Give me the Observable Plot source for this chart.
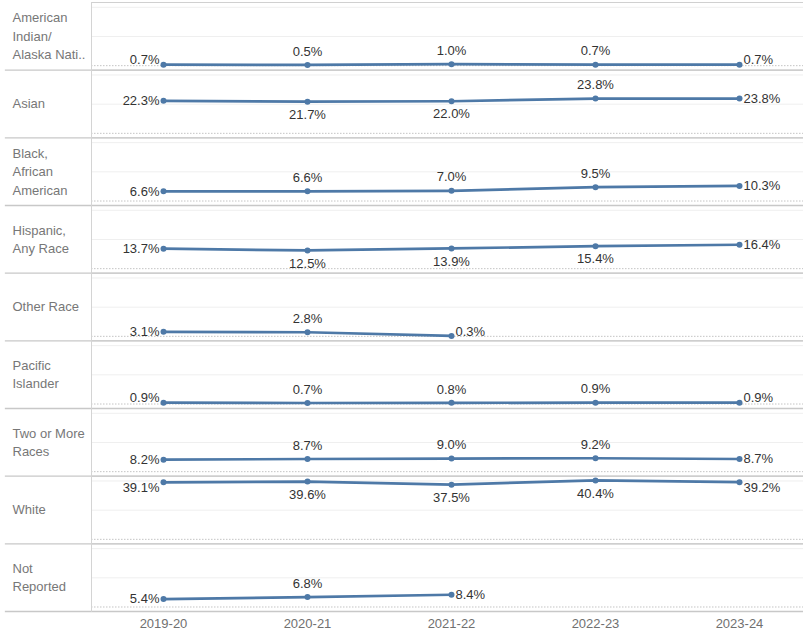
<!DOCTYPE html>
<html><head><meta charset="utf-8">
<script src="https://cdn.jsdelivr.net/npm/d3@7"></script>
<script src="https://cdn.jsdelivr.net/npm/@observablehq/plot@0.6"></script>
<style>body{margin:0;background:#fff;} #chart svg{display:block;}</style>
</head><body><div id="chart"></div>
<script>
const years = ["2019-20", "2020-21", "2021-22", "2022-23", "2023-24"];
const races = ["American Indian/Alaska Native", "Asian", "Black, African American", "Hispanic, Any Race", "Other Race", "Pacific Islander", "Two or More Races", "White", "Not Reported"];
const rowLabels = ["American\nIndian/\nAlaska Nati..", "Asian", "Black,\nAfrican\nAmerican", "Hispanic,\nAny Race", "Other Race", "Pacific\nIslander", "Two or More\nRaces", "White", "Not\nReported"];

const americanIndian = [0.7, 0.5, 1.0, 0.7, 0.7];
const asian = [22.3, 21.7, 22.0, 23.8, 23.8];
const black = [6.6, 6.6, 7.0, 9.5, 10.3];
const hispanic = [13.7, 12.5, 13.9, 15.4, 16.4];
const otherRace = [3.1, 2.8, 0.3];
const pacificIslander = [0.9, 0.7, 0.8, 0.9, 0.9];
const twoOrMore = [8.2, 8.7, 9.0, 9.2, 8.7];
const white = [39.1, 39.6, 37.5, 40.4, 39.2];
const notReported = [5.4, 6.8, 8.4];

// label side for the middle points of each row: A = above, B = below
const middleLabelSides = ["AAA", "BBA", "AAA", "BBB", "A", "AAA", "AAA", "BBB", "A"];

const seriesValues = [americanIndian, asian, black, hispanic, otherRace, pacificIslander, twoOrMore, white, notReported];

const rows = races.flatMap((race, i) => seriesValues[i].map((v, j) => {
  const n = seriesValues[i].length;
  const side = j === 0 ? "L" : j === n - 1 ? "R" : middleLabelSides[i][j - 1];
  const edge = v < 2 ? "low" : v > 38 ? "high" : "mid";
  return {race, year: years[j], value: v, side, edge};
}));

const blue = "#4e79a7";
const fmt = d => d.value.toFixed(1) + "%";

const labelMarks = [];
const sideSpecs = {
  L: {textAnchor: "end", dx: -4, dy: 0},
  R: {textAnchor: "start", dx: 4, dy: 0},
  A: {textAnchor: "middle", dx: 0, dy: -13.5},
  B: {textAnchor: "middle", dx: 0, dy: 13}
};
const edgeShift = {low: -4.5, mid: 0, high: 6};
for (const side of Object.keys(sideSpecs)) {
  for (const edge of Object.keys(edgeShift)) {
    const subset = rows.filter(d => d.side === side && d.edge === edge);
    if (!subset.length) continue;
    const s = sideSpecs[side];
    const dy = (side === "L" || side === "R") ? s.dy + edgeShift[edge] : s.dy;
    labelMarks.push(Plot.text(subset, {
      x: "year", y: "value", fy: "race", text: fmt,
      textAnchor: s.textAnchor, dx: s.dx, dy,
      fill: "#333", fontSize: 13
    }));
  }
}

const chart = Plot.plot({
  width: 803,
  height: 635,
  marginLeft: 91,
  marginRight: 0,
  marginTop: 2,
  marginBottom: 24,
  style: {fontFamily: "'Liberation Sans', Arial, sans-serif", fontSize: "13px", color: "#707070", background: "#fff"},
  x: {type: "point", domain: years, range: [163, 739], padding: 0, label: null, tickSize: 0, tickPadding: 7},
  y: {domain: [0, 43.3], insetBottom: 4.5, axis: null},
  fy: {domain: races, padding: 0, round: false, axis: null, label: null},
  marks: [
    Plot.ruleY([20, 40], {stroke: "#efefef", strokeWidth: 1}),
    Plot.ruleY([0], {stroke: "#c4c4c4", strokeWidth: 1, strokeDasharray: "1.5,1.5"}),
    Plot.frame({anchor: "top", stroke: "#d0d0d0"}),
    Plot.frame({anchor: "bottom", stroke: "#c8c8c8", insetLeft: -86, strokeWidth: 1.3}),
    Plot.frame({anchor: "left", stroke: "#d4d4d4"}),
    Plot.line(rows, {x: "year", y: "value", fy: "race", stroke: blue, strokeWidth: 2.7}),
    Plot.dot(rows, {x: "year", y: "value", fy: "race", fill: blue, r: 3}),
    ...labelMarks,
    Plot.text(races, {fy: d => d, text: (d, i) => rowLabels[i], frameAnchor: "left", dx: -79, dy: -1.5, textAnchor: "start", lineHeight: 1.42, fill: "#777", fontSize: 13})
  ]
});
document.getElementById("chart").appendChild(chart);
</script>
</body></html>
